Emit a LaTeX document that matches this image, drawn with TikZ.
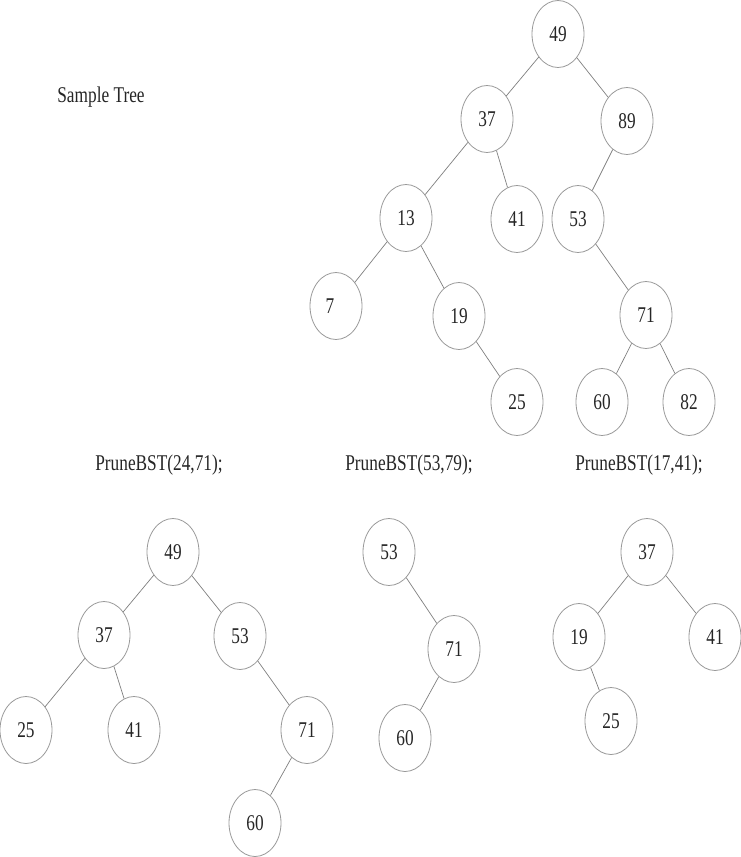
\documentclass[tikz,border=0pt]{standalone}
\usepackage{fontspec}
\setmainfont{Liberation Serif}
\usetikzlibrary{shapes.geometric}
\newcommand\stretchtxt[1]{\scalebox{1}[1.3]{#1}}
\begin{document}
\begin{tikzpicture}[x=1pt,y=-1pt,
  bst/.style={ellipse, draw=black!40, line width=0.8pt, minimum width=52pt, minimum height=67pt, inner sep=0pt, font=\fontsize{17.3}{20}\selectfont, text=black!85},
  lnk/.style={draw=black!50, line width=0.7pt},
  lbl/.style={font=\fontsize{17.3}{20}\selectfont, text=black!85, inner sep=0pt}]
\useasboundingbox[fill=white] (0,0) rectangle (741,857);

% Sample tree
\node[lbl] (title) at (101,97) {\stretchtxt{Sample Tree}};
\node[bst] (a49) at (558,34) {\stretchtxt{49}};
\node[bst] (a37) at (487,119) {\stretchtxt{37}};
\node[bst] (a89) at (627,121) {\stretchtxt{89}};
\node[bst] (a13) at (406,218) {\stretchtxt{13}};
\node[bst] (a41) at (517,219) {\stretchtxt{41}};
\node[bst] (a53) at (578,219) {\stretchtxt{53}};
\node[bst] (a7) at (336,306) {\stretchtxt{7\hspace{12pt}}};
\node[bst] (a19) at (459,316) {\stretchtxt{19}};
\node[bst] (a71) at (646,315) {\stretchtxt{71}};
\node[bst] (a25) at (517,402) {\stretchtxt{25}};
\node[bst] (a60) at (602,402) {\stretchtxt{60}};
\node[bst] (a82) at (689,402) {\stretchtxt{82}};
\draw[lnk] (a49) -- (a37);
\draw[lnk] (a49) -- (a89);
\draw[lnk] (a37) -- (a13);
\draw[lnk] (a37) -- (a41);
\draw[lnk] (a89) -- (a53);
\draw[lnk] (a13) -- (a7);
\draw[lnk] (a13) -- (a19);
\draw[lnk] (a19) -- (a25);
\draw[lnk] (a53) -- (a71);
\draw[lnk] (a71) -- (a60);
\draw[lnk] (a71) -- (a82);

% PruneBST(24,71)
\node[lbl] (l1) at (159,465) {\stretchtxt{PruneBST(24,71);}};
\node[bst] (b49) at (173,552) {\stretchtxt{49}};
\node[bst] (b37) at (104,635) {\stretchtxt{37}};
\node[bst] (b53) at (240,636) {\stretchtxt{53}};
\node[bst] (b25) at (26,730) {\stretchtxt{25}};
\node[bst] (b41) at (134,730) {\stretchtxt{41}};
\node[bst] (b71) at (307,730) {\stretchtxt{71}};
\node[bst] (b60) at (255,823) {\stretchtxt{60}};
\draw[lnk] (b49) -- (b37);
\draw[lnk] (b49) -- (b53);
\draw[lnk] (b37) -- (b25);
\draw[lnk] (b37) -- (b41);
\draw[lnk] (b53) -- (b71);
\draw[lnk] (b71) -- (b60);

% PruneBST(53,79)
\node[lbl] (l2) at (409,465) {\stretchtxt{PruneBST(53,79);}};
\node[bst] (c53) at (389,552) {\stretchtxt{53}};
\node[bst] (c71) at (454,649) {\stretchtxt{71}};
\node[bst] (c60) at (405,738) {\stretchtxt{60}};
\draw[lnk] (c53) -- (c71);
\draw[lnk] (c71) -- (c60);

% PruneBST(17,41)
\node[lbl] (l3) at (639,465) {\stretchtxt{PruneBST(17,41);}};
\node[bst] (d37) at (647,552) {\stretchtxt{37}};
\node[bst] (d19) at (579,637) {\stretchtxt{19}};
\node[bst] (d41) at (715,637) {\stretchtxt{41}};
\node[bst] (d25) at (611,721) {\stretchtxt{25}};
\draw[lnk] (d37) -- (d19);
\draw[lnk] (d37) -- (d41);
\draw[lnk] (d19) -- (d25);
\end{tikzpicture}
\end{document}
